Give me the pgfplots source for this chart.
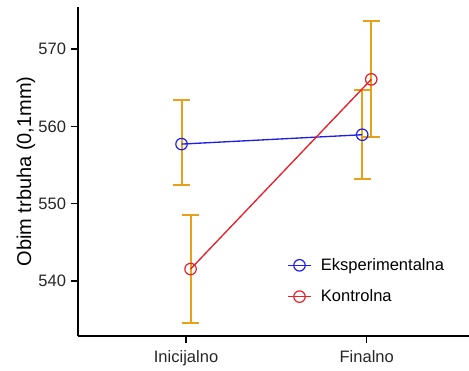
\documentclass[border=0pt]{standalone}
\usepackage{pgfplots}
\pgfplotsset{compat=1.18}
\usepackage{fontspec}
\setmainfont{Liberation Sans}
\definecolor{eblue}{RGB}{30,30,230}
\definecolor{kred}{RGB}{232,30,40}
\definecolor{eorange}{RGB}{230,160,25}
\begin{document}
\begin{tikzpicture}
\begin{axis}[
 scale only axis, width=293.25pt, height=246.75pt,
 xmin=0.402, xmax=2.566, ymin=532.9, ymax=575.45,
 axis lines*=left, axis line style={line width=1.1pt, black},
 xtick={1,2}, xticklabels={Inicijalno,Finalno},
 ytick={540,550,560,570},
 tick style={line width=1pt, black}, major tick length=5.5pt, tick align=outside,
 ticklabel style={font=\fontsize{12.4}{14}\selectfont, text=black!85},
 xticklabel style={yshift=-1.5pt},
 /pgf/number format/assume math mode=true,
 ylabel={Obim trbuha (0,1mm)},
 ylabel style={font=\fontsize{15}{18}\selectfont, at={(axis description cs:-0.133,0.5)}, anchor=center},
 legend style={at={(axis description cs:0.535,0.245)}, anchor=north west, draw=none, fill=none,
   font=\fontsize{12.4}{14}\selectfont, row sep=9pt, inner sep=0pt,
   /tikz/every odd column/.append style={column sep=5pt}},
 legend cell align=left,
 clip=false,
]
\addplot[eorange, draw=none, mark=none, forget plot,
  error bars/.cd, y dir=both, y explicit,
  error bar style={draw=eorange, line width=1.5pt, solid},
  error mark options={draw=eorange, rotate=90, mark size=6.4pt, line width=1.5pt}]
 coordinates {
 (0.975,557.72) += (0,5.68) -= (0,5.30)
 (1.975,558.93) += (0,5.73) -= (0,5.73)
 (1.025,541.56) += (0,7.04) -= (0,6.95)
 (2.025,566.09) += (0,7.52) -= (0,7.46)
 };
\addplot[eblue, line width=1pt, mark=o, mark size=4.3pt, mark options={line width=0.9pt}]
 coordinates {(0.975,557.72) (1.975,558.93)};
\addlegendentry{Eksperimentalna}
\addplot[kred, line width=1pt, mark=o, mark size=4.3pt, mark options={line width=0.9pt}]
 coordinates {(1.025,541.56) (2.025,566.09)};
\addlegendentry{Kontrolna}
\end{axis}
\pgfresetboundingbox
\path[use as bounding box] (-58.5pt,-26.25pt) rectangle (293.25pt,252pt);
\end{tikzpicture}
\end{document}
